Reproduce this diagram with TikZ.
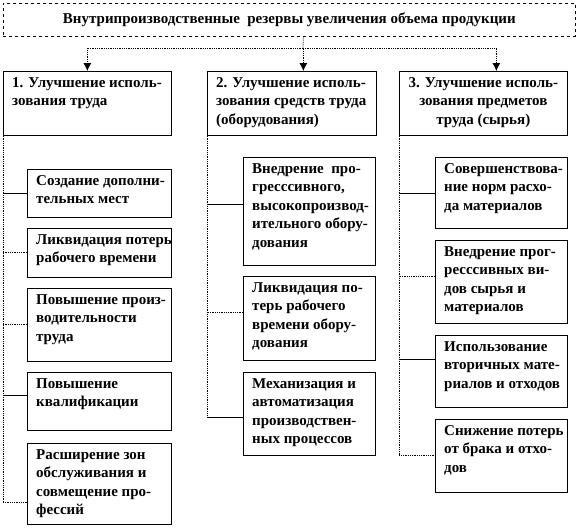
\documentclass[tikz,border=0pt]{standalone}
\usepackage{fontspec}
\setmainfont{Liberation Serif}[BoldFont={Liberation Serif Bold}]
\usetikzlibrary{arrows.meta}

\begin{document}
\begin{tikzpicture}[x=1pt,y=-1pt,font=\fontsize{15}{18.5}\selectfont\bfseries]
        \tikzset{box/.style={draw,line width=0.7pt,anchor=north west,inner sep=0pt},
                 txt/.style={anchor=north west,align=left,inner xsep=9pt,inner ysep=6pt},
                 fleche/.style={-{Latex[length=8pt,width=8pt]},densely dotted,line width=0.8pt},
                 trunk/.style={densely dotted,line width=0.8pt},
                 link/.style={line width=0.7pt}}
        \useasboundingbox (0,0) rectangle (582,530);
        % title
        \node[box,dashed,minimum width=572,minimum height=33] (T) at (3,3)
             {Внутрипроизводственные\ \ резервы увеличения объема продукции};
        % directions
        \node[box,minimum width=168,minimum height=64,
              label={[txt]north west:1. Улучшение исполь-\\зования труда}] (D1) at (3,71) {};
        \node[box,minimum width=169,minimum height=64,
              label={[txt]north west:2. Улучшение исполь-\\зования средств труда\\(оборудования)}] (D2) at (207,71) {};
        \node[box,minimum width=168,minimum height=64,
              label={[txt,anchor=north,align=center]north:3. Улучшение исполь-\\зования предметов\\труда (сырья)}] (D3) at (399,71) {};
        \coordinate (hub) at (303,48);
        \draw[trunk] ([xshift=14pt]T.south) -- (hub);
        \draw[fleche] (hub) -| (D1.north);
        \draw[fleche] (hub) -| ([xshift=11.5pt]D2.north);
        \draw[fleche] (hub) -| ([xshift=13pt]D3.north);
        % column 1
        \node[box,minimum width=144,minimum height=48,
              label={[txt]north west:Создание дополни-\\тельных мест}] (A1) at (27,169) {};
        \node[box,minimum width=144,minimum height=49,
              label={[txt]north west:Ликвидация потерь\\рабочего времени}] (A2) at (27,228) {};
        \node[box,minimum width=144,minimum height=73,
              label={[txt]north west:Повышение произ-\\водительности\\труда}] (A3) at (27,288) {};
        \node[box,minimum width=144,minimum height=58,
              label={[txt]north west:Повышение\\квалификации}] (A4) at (27,372) {};
        \node[box,minimum width=144,minimum height=81,
              label={[txt]north west:Расширение зон\\обслуживания и\\совмещение про-\\фессий}] (A5) at (27,443) {};
        \draw[trunk] (D1.south west) |- ([yshift=-19pt]A5.west);
        \draw[link] (A1.west) -- (A1.west -| D1.west);
        \draw[trunk] (A2.west) -- (A2.west -| D1.west);
        \draw[trunk] (A3.west) -- (A3.west -| D1.west);
        \draw[link] ([yshift=6pt]A4.west) -- ([yshift=6pt]A4.west -| D1.west);
        % column 2
        \node[box,minimum width=132,minimum height=108,
              label={[txt]north west:Внедрение\ \ про-\\гресссивного,\\высокопроизвод-\\ительного обору-\\дования}] (B1) at (243,157) {};
        \node[box,minimum width=132,minimum height=84,
              label={[txt]north west:Ликвидация по-\\терь рабочего\\времени обору-\\дования}] (B2) at (243,276) {};
        \node[box,minimum width=132,minimum height=83,
              label={[txt]north west:Механизация и\\автоматизация\\производствен-\\ных процессов}] (B3) at (243,372) {};
        \draw[trunk] (D2.south west) -- ([yshift=-3.5pt]B3.west -| D2.west);
        \draw[link] ([yshift=7pt]B1.west) -- ([yshift=7pt]B1.west -| D2.west);
        \draw[trunk] ([yshift=6pt]B2.west) -- ([yshift=6pt]B2.west -| D2.west);
        \draw[link] ([yshift=-3.5pt]B3.west) -- ([yshift=-3.5pt]B3.west -| D2.west);
        % column 3
        \node[box,minimum width=132,minimum height=71,
              label={[txt]north west:Совершенствова-\\ние норм расхо-\\да материалов}] (C1) at (435,157) {};
        \node[box,minimum width=132,minimum height=83,
              label={[txt]north west:Внедрение прог-\\ресссивных ви-\\дов\ сырья и\\материалов}] (C2) at (435,240) {};
        \node[box,minimum width=132,minimum height=72,
              label={[txt]north west:Использование\\вторичных мате-\\риалов и отходов}] (C3) at (435,335) {};
        \node[box,minimum width=132,minimum height=73,
              label={[txt]north west:Снижение потерь\\от брака и отхо-\\дов}] (C4) at (435,419) {};
        \draw[trunk] (D3.south west) |- (C4.west);
        \draw[link] (C1.west) -- (C1.west -| D3.west);
        \draw[trunk] ([yshift=5pt]C2.west) -- ([yshift=5pt]C2.west -| D3.west);
        \draw[link] ([yshift=12pt]C3.west) -- ([yshift=12pt]C3.west -| D3.west);
\end{tikzpicture}
\end{document}
